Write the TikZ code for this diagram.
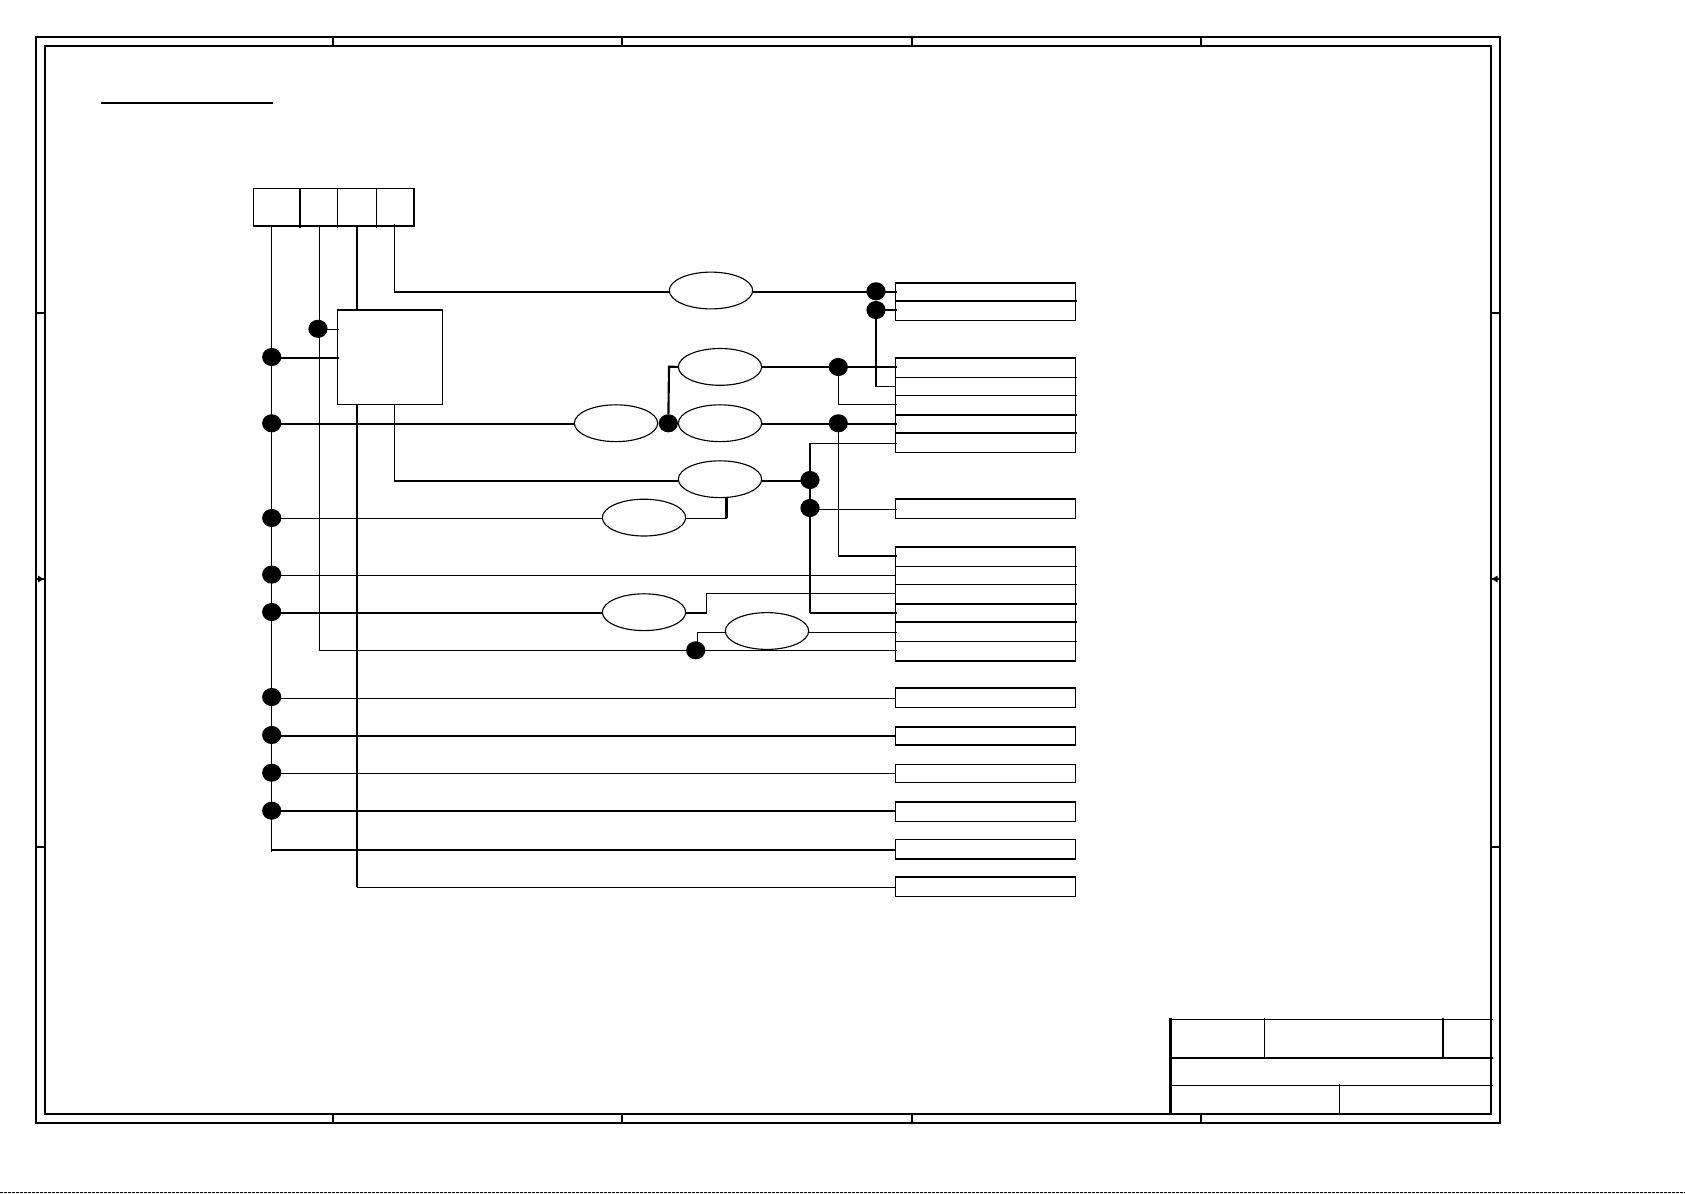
\documentclass[tikz,border=0pt]{standalone}
\usetikzlibrary{shapes.geometric}
\tikzset{
  thn/.style={line width=0.85pt,line cap=square},
  thk/.style={line width=1.6pt,line cap=square},
  ext/.style={shorten >=-1.2pt},
  dot/.style={ellipse,fill=black,draw=none,inner sep=0pt,outer sep=0pt,minimum width=14.4pt,minimum height=13.6pt},
  oval/.style={ellipse,draw,line width=0.85pt,inner sep=0pt,outer sep=0pt,minimum width=62.5pt,minimum height=27.6pt},
  plain/.style={rectangle,draw,line width=0.85pt,inner sep=0pt,outer sep=0pt},
}
% name, top, bottom, y of the connector that enters the row
\newcommand{\rowcell}[4]{\node[plain,minimum width=135pt,minimum height={(#3-#2)*0.75pt}] (#1) at (985.3,{(#2+#3)/2}) {};\coordinate (#1p) at (895.3,#4);}
\newcommand{\topcell}[3]{\node[plain,minimum width={(#3-#2)*0.75pt},minimum height=28.3pt] (#1) at ({(#2+#3)/2},207.2) {};}
\begin{document}
\begin{tikzpicture}[x=0.75pt,y=-0.75pt]
\useasboundingbox (0,0) rectangle (1685,1193);
% sheet frame
\node[plain,line width=1.6pt,minimum width={1464*0.75pt},minimum height={1086*0.75pt}] (outer) at (768,580) {};
\node[plain,line width=1.6pt,minimum width={1446*0.75pt},minimum height={1068*0.75pt}] (inner) at (768,580) {};
\foreach \x in {333,622,912,1201}{
  \draw[thk] (\x,37) -- (\x,46);
  \draw[thk] (\x,1114) -- (\x,1123);
}
\foreach \y in {313,847}{
  \draw[thk] (36,\y) -- (45,\y);
  \draw[thk] (1491,\y) -- (1500,\y);
}
\draw[thk] (36,579) -- (45,579);
\draw[thk] (1491,579) -- (1500,579);
\fill (38,575.5) -- (43.5,579) -- (38,582.5) -- cycle;
\fill (1497.5,575.5) -- (1492,579) -- (1497.5,582.5) -- cycle;
% title rule
\coordinate (ta) at (101,103); \coordinate (tb) at (273,103);
\draw[thk] (ta) -- (tb);
% title block
\draw[thk] (1170.5,1017.5) -- (1170.5,1114);
\draw[thn] (1170.5,1019.5) -- (1492.5,1019.5);
\draw[thn] (1264.5,1017.5) -- (1264.5,1058);
\draw[thk] (1443,1017.5) -- (1443,1058);
\draw[thk] (1169,1058) -- (1492.5,1058);
\draw[thn] (1170.5,1085.5) -- (1492.5,1085.5);
\draw[thn] (1339.5,1084) -- (1339.5,1114);
% bottom strip
\draw[line width=0.75pt,dash pattern=on 2.25pt off 0.75pt] (0,1192.5) -- (1685,1192.5);
% top connector box
\topcell{t1}{253.3}{300}
\topcell{t2}{300}{337.3}
\topcell{t3}{337.3}{376.3}
\topcell{t4}{376.3}{414}
\draw[thk] (t1.south west) -- (t4.south east) -- (t4.north east);
\draw[thk,ext] (t1.north east) -- (t1.south east);
\draw[thn,ext] (t2.north east) -- (t2.south east);
\draw[thn,ext] (t3.north east) -- (t3.south east);
\coordinate (v1) at (271.3,226);
\coordinate (v2) at (319.3,226);
\coordinate (v3) at (357,226);
\coordinate (v4) at (394.3,224);
% rows
\rowcell{a1}{282.7}{301}{292} \rowcell{a2}{301}{320.3}{310}
\rowcell{b1}{358}{377.3}{367} \rowcell{b2}{377.3}{395.3}{386.7} \rowcell{b3}{395.3}{415}{404.7} \rowcell{b4}{415}{433}{424} \rowcell{b5}{433}{452.3}{443.3}
\rowcell{c1}{499}{518.3}{509.3}
\rowcell{e1}{546.7}{566.3}{556} \rowcell{e2}{566.3}{584.3}{575.3} \rowcell{e3}{584.3}{603.7}{593.3} \rowcell{e4}{603.7}{621.7}{612.7} \rowcell{e5}{621.7}{641.3}{632.3} \rowcell{e6}{641.3}{661}{650.3}
\rowcell{f1}{687.7}{707.3}{698.3} \rowcell{f2}{727}{745}{736} \rowcell{f3}{764.7}{782.3}{773.3} \rowcell{f4}{802}{821.3}{811} \rowcell{f5}{839.7}{859}{850} \rowcell{f6}{877}{896.3}{887.3}
\foreach \r in {a1,b1,c1,e1,f1,f2,f4,f6}{\draw[thk] (\r.north west) -- (\r.north east);}
\foreach \r in {f2,f5,e6}{\draw[thk] (\r.south west) -- (\r.south east);}
\foreach \r in {a1,b3,b4,e3,e4}{\draw[thk,ext] (\r.south west) -- (\r.south east);}
\foreach \r in {b1,b2,e1,e2,e5}{\draw[thn,ext] (\r.south west) -- (\r.south east);}
% block
\node[plain,minimum width={105.3*0.75pt},minimum height={94.3*0.75pt}] (blk) at (390,357.2) {};
\draw[thk] (blk.north west) -- (blk.north east);
\coordinate (bl1) at (blk.west |- 0,329.3);
\coordinate (bl2) at (blk.west |- 0,358);
% ovals
\node[oval] (eT) at (711,290.5) {};
\node[oval] (eU) at (720,366.9) {};
\node[oval] (eL) at (616,423.2) {};
\node[oval] (eM) at (720,423.2) {};
\node[oval] (eE) at (720,479.2) {};
\node[oval] (eF) at (644,517.6) {};
\node[oval] (eG) at (644,612.2) {};
\node[oval] (eH) at (767,631) {};
% dots
\node[dot] (dA) at (876,291.3) {};
\node[dot] (dB) at (876,310) {};
\node[dot] (dU) at (838.3,367) {};
\node[dot] (dM) at (838.3,423.3) {};
\node[dot] (dLM) at (668.3,423.3) {};
\node[dot] (dE) at (810,480) {};
\node[dot] (dC) at (810,508) {};
\node[dot] (dS) at (695.7,650.3) {};
\node[dot] (n1) at (318,328.8) {};
\node[dot] (n2) at (271.7,357) {};
\node[dot] (n3) at (271.7,423.3) {};
\node[dot] (n4) at (271.7,518) {};
\node[dot] (n5) at (271.7,574.6) {};
\node[dot] (n6) at (271.7,612) {};
\node[dot] (n7) at (271.7,697) {};
\node[dot] (n8) at (271.7,735) {};
\node[dot] (n9) at (271.7,772.7) {};
\node[dot] (n10) at (271.7,810.7) {};
% rails from the top box
\coordinate (v1e) at (271.3,851.5);
\draw[thn] (v1) -- (v1e);
\draw[thn] (v2) -- (v2 |- e6p);
\draw[thk] (v3) -- (v3 |- blk.north);
\draw[thk] (v3 |- blk.south) -- (v3 |- f6p);
\draw[thn] (v4) -- (v4 |- a1p);
\draw[thk] (v4 |- a1p) -- (eT.west |- a1p);
\draw[thk] (eT.east |- a1p) -- (dA |- a1p);
\draw[thn,ext] (dA |- a1p) -- (a1p);
\draw[thk,ext] (dB |- a2p) -- (a2p);
\coordinate (jB) at (dB |- b2p);
\draw[thk] (dB) -- (jB);
\draw[thn] (jB) -- (b2p);
% block links
\draw[thn,ext] (n1 |- bl1) -- (bl1);
\draw[thk,ext] (n2 |- bl2) -- (bl2);
\draw[thk] (n3 |- b4p) -- (eL.west |- b4p);
\coordinate (yE) at (0,480.7);
\coordinate (bs) at (v4 |- blk.south);
\coordinate (bj) at (v4 |- yE);
\draw[thn] (bs) -- (bj);
\draw[thk] (bj) -- (eE.west |- yE);
% upper pair
\coordinate (ju) at (669,366.7);
\draw[thk] (dLM) -- (ju) -- (eU.west);
\draw[thk] (eU.east |- b1p) -- (dU |- b1p);
\draw[thk,ext] (dU |- b1p) -- (b1p);
\draw[thn] (dU) -- (dU |- b3p);
\draw[thn,ext] (dU |- b3p) -- (b3p);
\draw[thk] (eM.east |- b4p) -- (dM |- b4p);
\draw[thk,ext] (dM |- b4p) -- (b4p);
\coordinate (jm) at (dM |- e1p);
\draw[thn] (dM) -- (jm);
\draw[thk,ext] (jm) -- (e1p);
% x=810 rail
\coordinate (r1) at (dE |- b5p);
\coordinate (r2) at (dE |- e4p);
\draw[thk] (r1) -- (r2);
\draw[thn,ext] (r1) -- (b5p);
\draw[thk,ext] (r2) -- (e4p);
\draw[thk] (eE.east |- yE) -- (dE |- yE);
\draw[thn,ext] (dC |- c1p) -- (c1p);
% eF
\coordinate (j1) at (726.5,518.3);
\draw[thn] (n4 |- j1) -- (eF.west |- j1);
\draw[thn] (eF.east |- j1) -- (j1);
\draw[thk] (j1) -- (j1 |- eE.south);
% direct row
\draw[thn] (n5 |- e2p) -- (e2p);
% eG
\draw[thk] (n6 |- e4p) -- (eG.west |- e4p);
\coordinate (j2) at (706.7,612.7);
\draw[thk] (eG.east |- j2) -- (j2);
\draw[thn] (j2) -- (j2 |- e3p);
\draw[thn] (j2 |- e3p) -- (e3p);
% eH
\draw[thn,ext] (eH.east |- e5p) -- (e5p);
\path (e5p) ++(-198,0) coordinate (j3);
\draw[thn] (eH.west |- j3) -- (j3);
\draw[thn] (j3) -- (j3 |- dS);
\draw[thn,ext] (v2 |- e6p) -- (e6p);
% lower rows
\draw[thn] (n7 |- f1p) -- (f1p);
\draw[thk] (n8 |- f2p) -- (f2p);
\draw[thn] (n9 |- f3p) -- (f3p);
\draw[thk] (n10 |- f4p) -- (f4p);
\draw[thk] (v1 |- f5p) -- (f5p);
\draw[thn] (v3 |- f6p) -- (f6p);
\end{tikzpicture}
\end{document}
